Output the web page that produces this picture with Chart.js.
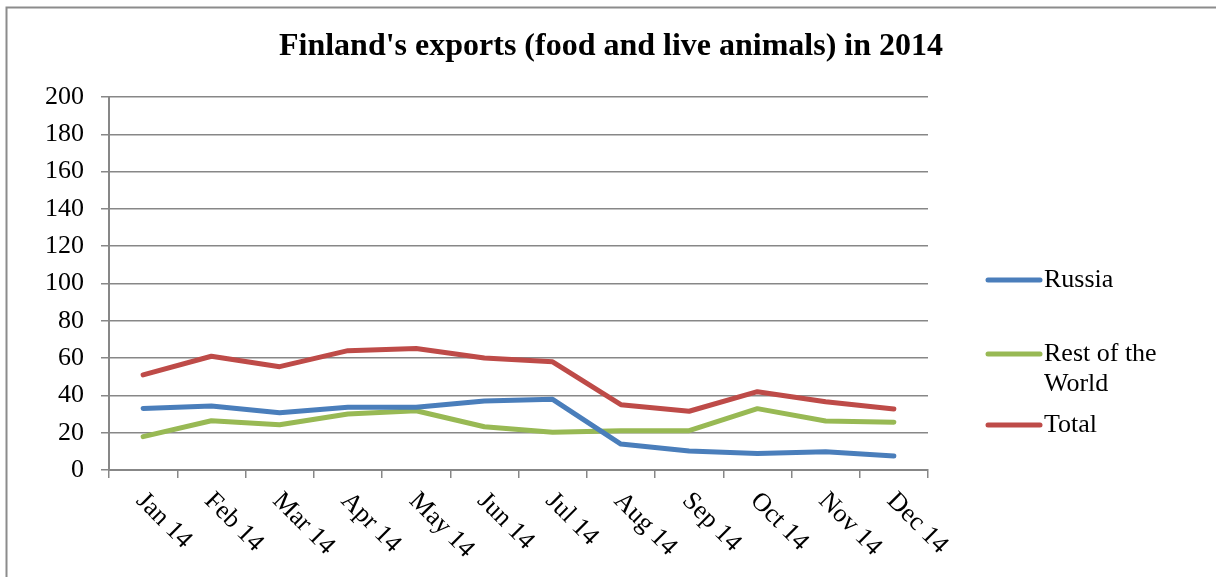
<!DOCTYPE html>
<html>
<head>
<meta charset="utf-8">
<script src="https://cdn.jsdelivr.net/npm/chart.js@4.4.1/dist/chart.umd.min.js"></script>
<style>
  html, body { margin: 0; padding: 0; background: #fff; }
  #wrap { position: relative; width: 1216px; height: 577px; }
</style>
</head>
<body>
<div id="wrap"><canvas id="exports-chart"></canvas></div>
<script>
// monthly exports, 2014
const months = ['Jan 14', 'Feb 14', 'Mar 14', 'Apr 14', 'May 14', 'Jun 14',
                'Jul 14', 'Aug 14', 'Sep 14', 'Oct 14', 'Nov 14', 'Dec 14'];
const russia = [33, 34.3, 30.7, 33.6, 33.6, 37, 37.9, 13.9, 10.2, 8.9, 9.8, 7.5];
const restOfWorld = [17.9, 26.4, 24.3, 30, 31.8, 23.2, 20.2, 21.1, 21.1, 32.9, 26.3, 25.6];
const total = [51, 61, 55.4, 64, 65.2, 60, 58, 35, 31.5, 42, 36.6, 32.7];
const seriesNames = ['Russia', ['Rest of the', 'World'], 'Total'];
const chartTitle = "Finland's exports (food and live animals) in 2014";

const serif = '"Liberation Serif", "Times New Roman", serif';
const axisGrey = '#878787';

function getColor(i) {
    if (i === 0) return '#4A7EBB';
    if (i === 1) return '#98B954';
    return '#BE4B48';
}

// frame, title, rotated month labels and the side legend
const decorations = {
    id: 'decorations',
    afterDraw(chart) {
        const ctx = chart.ctx;
        const x = chart.scales.x;
        ctx.save();

        ctx.strokeStyle = '#8c8c8c';
        ctx.lineWidth = 2;
        ctx.beginPath();
        ctx.moveTo(6.5, 577);
        ctx.lineTo(6.5, 7.5);
        ctx.lineTo(1216, 7.5);
        ctx.stroke();

        ctx.fillStyle = '#000';
        ctx.font = 'bold 32px ' + serif;
        ctx.textAlign = 'center';
        ctx.textBaseline = 'middle';
        ctx.fillText(chartTitle, 611, 47);

        ctx.font = '26px ' + serif;
        ctx.textAlign = 'left';
        months.forEach((m, i) => {
            ctx.save();
            ctx.translate(x.getPixelForValue(i) - 3, x.bottom + 19);
            ctx.rotate(Math.PI / 4);
            ctx.fillText(m, 0, 0);
            ctx.restore();
        });

        const rows = [280, 354, 425];
        chart.data.datasets.forEach((ds, i) => {
            ctx.strokeStyle = ds.borderColor;
            ctx.lineWidth = 5;
            ctx.lineCap = 'round';
            ctx.beginPath();
            ctx.moveTo(988, rows[i]);
            ctx.lineTo(1040, rows[i]);
            ctx.stroke();
            const lines = [].concat(seriesNames[i]);
            lines.forEach((t, k) => ctx.fillText(t, 1044, rows[i] + k * 30));
        });
        ctx.restore();
    }
};

new Chart(document.querySelector('#exports-chart').getContext('2d'), {
    type: 'line',
    data: {
        labels: months,
        datasets: [russia, restOfWorld, total].map((values, i) => ({
            label: [].concat(seriesNames[i]).join(' '),
            data: values,
            borderColor: getColor(i),
            backgroundColor: getColor(i),
            borderWidth: 5,
            pointRadius: 0,
            tension: 0,
            borderCapStyle: 'round',
            borderJoinStyle: 'round'
        }))
    },
    options: {
        responsive: true,
        maintainAspectRatio: false,
        animation: false,
        layout: { padding: { left: 28, right: 288, top: 97, bottom: 99 } },
        plugins: {
            legend: { display: false },
            tooltip: { enabled: false },
            title: { display: false }
        },
        scales: {
            x: {
                offset: true,
                ticks: { display: false },
                grid: {
                    offset: true,
                    drawOnChartArea: false,
                    drawTicks: true,
                    tickLength: 8,
                    color: axisGrey,
                    lineWidth: 1.5
                },
                border: { color: axisGrey, width: 2 }
            },
            y: {
                min: 0,
                max: 200,
                ticks: {
                    stepSize: 20,
                    color: '#000',
                    padding: 17,
                    font: { family: serif, size: 26 }
                },
                grid: { color: axisGrey, lineWidth: 1.5, tickLength: 8 },
                border: { color: axisGrey, width: 2 }
            }
        }
    },
    plugins: [decorations]
});
</script>
</body>
</html>
